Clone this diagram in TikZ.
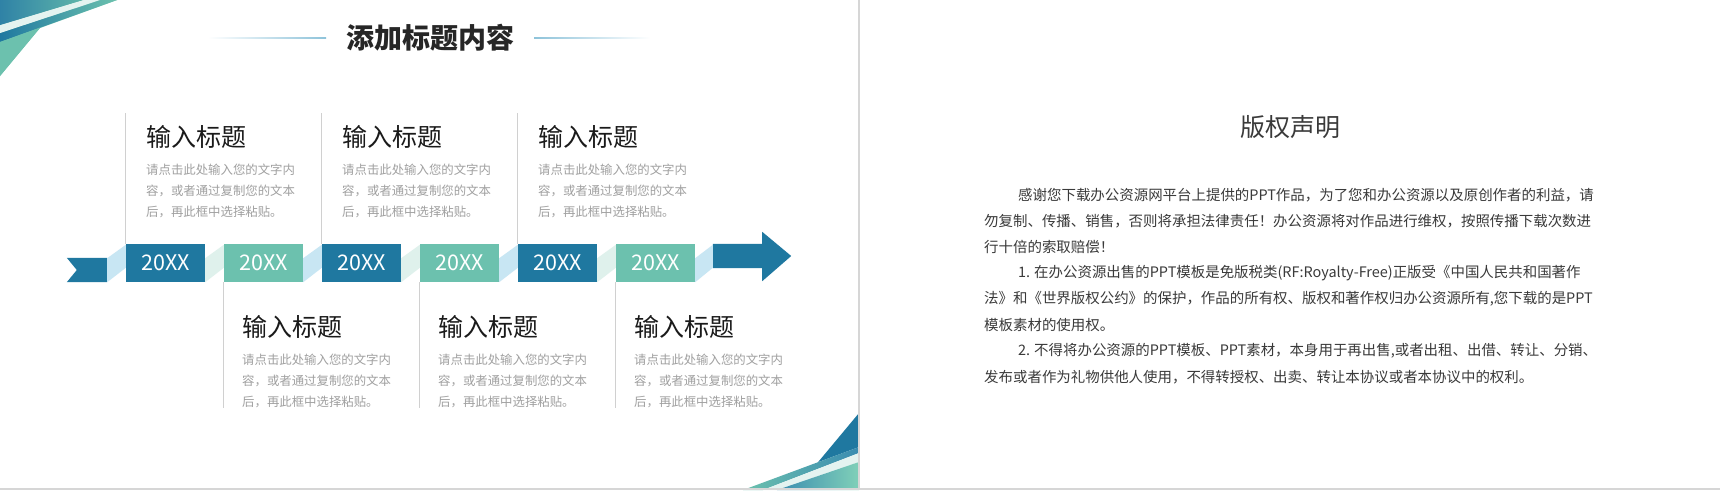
\documentclass[tikz,border=0pt]{standalone}
\usepackage{fontspec}
\setmainfont{Noto Sans CJK SC}
\usetikzlibrary{calc}
\definecolor{dkblue}{HTML}{1F78A0}
\definecolor{tealc}{HTML}{6CC1AE}
\definecolor{ltblue}{HTML}{C8E6F3}
\definecolor{mint}{HTML}{DFF1EC}
\definecolor{vgray}{HTML}{D0D0D0}
\definecolor{divgray}{HTML}{D6D6D6}
\definecolor{descc}{HTML}{A0A0A0}
\definecolor{titlec}{HTML}{1A1A1A}
\definecolor{hdrc}{HTML}{262626}
\definecolor{bodyc}{HTML}{3A3A3A}
\definecolor{hdrline}{HTML}{8EC3DA}
\definecolor{wstrip}{HTML}{E4F3F0}
\definecolor{tlA}{HTML}{2F82A6}
\definecolor{tlB}{HTML}{5FB6AA}
\definecolor{brA}{HTML}{3A8CB0}
\definecolor{brB}{HTML}{80D0B8}
\XeTeXlinebreaklocale "zh"
\XeTeXlinebreakskip=0pt plus 1pt
\newcommand\linkpar[3]{\fill[#3] (#1.south east) -- ([yshift=24pt]#1.south east) -- ([yshift=-1pt]#2.north west) -- ([yshift=-24pt]#2.north west) -- cycle;}
\tikzset{
  yr/.style={inner sep=0, minimum width=79pt, minimum height=38pt, text=white, font=\fontsize{21.5}{21.5}\selectfont},
  ttl/.style={anchor=west, inner sep=0, text=titlec, font=\fontsize{25}{25}\selectfont},
  desc/.style={anchor=west, inner sep=0, text=descc, font=\fontsize{12.4}{12.4}\selectfont},
  bodyl/.style={anchor=west, inner sep=0, text=bodyc, font=\fontsize{14.45}{14.45}\selectfont},
  vl/.style={draw=vgray, line width=1pt},
}
\begin{document}
\begin{tikzpicture}[x=1pt,y=-1pt]
\useasboundingbox (0,0) rectangle (1720,490);
\fill[white] (0,0) rectangle (1720,490);

% top-left decoration
\fill[tealc] (0,0) -- (117,0) -- (40,28) -- (0,76) -- cycle;
\shade[left color=dkblue, right color=tealc] (0,33) -- (100,0) -- (117,0) -- (0,42) -- cycle;
\fill[tealc] (0,42) -- (40,27.6) -- (0,76) -- cycle;
\fill[wstrip] (0,25) -- (83,0) -- (100,0) -- (0,33) -- cycle;
\shade[left color=tlA, right color=tlB] (0,0) -- (83,0) -- (0,25) -- cycle;

% bottom-right decoration of left slide
\fill[dkblue] (818,462.2) -- (859,413) -- (859,447) -- cycle;
\shade[left color=tealc, right color=brA] (743,490) -- (859,447) -- (859,453) -- (763,490) -- cycle;
\fill[wstrip] (763,490) -- (859,453) -- (859,462) -- (777,490) -- cycle;
\shade[left color=brA, right color=brB] (777,490) -- (859,462) -- (859,490) -- cycle;

% dividers
\draw[divgray, line width=2pt] (859,0) -- (859,490);
\draw[divgray, line width=2pt] (0,489) -- (1720,489);

% header
\node[inner sep=0, text=hdrc, font=\fontsize{28}{28}\selectfont\bfseries] (hdr) at (430,38) {添加标题内容};
\shade[left color=white, right color=hdrline] (208,37.3) rectangle (326,38.7);
\shade[left color=hdrline, right color=white] (534,37.3) rectangle (650,38.7);

% timeline
\node[yr, fill=dkblue] (b1) at (165.5,263) {20XX};
\node[yr, fill=tealc]  (b2) at (263.5,263) {20XX};
\node[yr, fill=dkblue] (b3) at (361.5,263) {20XX};
\node[yr, fill=tealc]  (b4) at (459.5,263) {20XX};
\node[yr, fill=dkblue] (b5) at (557.5,263) {20XX};
\node[yr, fill=tealc]  (b6) at (655.5,263) {20XX};
\node[inner sep=0, minimum width=40pt, minimum height=24pt] (flag) at (87,270) {};
\fill[dkblue] (flag.north west) -- (flag.north east) -- (flag.south east) -- (flag.south west) -- ([xshift=10pt]flag.west) -- cycle;
\node[inner sep=0, minimum width=49pt, minimum height=24pt] (arr) at (737.5,256) {};
\fill[dkblue] (arr.north west) -- (arr.north east) -- ([yshift=12pt]arr.north east) -- ([xshift=29pt]arr.east) -- ([yshift=-13pt]arr.south east) -- (arr.south east) -- (arr.south west) -- cycle;
\linkpar{flag}{b1}{ltblue}
\linkpar{b1}{b2}{mint}
\linkpar{b2}{b3}{ltblue}
\linkpar{b3}{b4}{mint}
\linkpar{b4}{b5}{ltblue}
\linkpar{b5}{b6}{mint}
\linkpar{b6}{arr}{ltblue}

% vertical guide lines
\draw[vl] (b1.north west) -- ++(0,-131);
\draw[vl] (b3.north west) -- ++(0,-131);
\draw[vl] (b5.north west) -- ++(0,-131);
\draw[vl] (b2.south west) -- ++(0,126);
\draw[vl] (b4.south west) -- ++(0,126);
\draw[vl] (b6.south west) -- ++(0,126);

% items
\foreach \n/\x/\y in {1/146/137, 3/342/137, 5/538/137, 2/242/327, 4/438/327, 6/634/327}{
  \node[ttl] (t\n) at (\x,\y) {输入标题};
  \node[desc] (da\n) at (\x,\y+33) {请点击此处输入您的文字内};
  \node[desc] (db\n) at (\x,\y+54) {容，或者通过复制您的文本};
  \node[desc] (dc\n) at (\x,\y+75) {后，再此框中选择粘贴。};
}

% right slide
\node[inner sep=0, text=bodyc, font=\fontsize{25}{25}\selectfont] (rt) at (1290,127) {版权声明};
\node[bodyl] (l1) at (1018,195) {\makebox[573pt][s]{感谢您下载办公资源网平台上提供的PPT作品，为了您和办公资源以及原创作者的利益，请}};
\node[bodyl] (l2) at (984,221) {\makebox[607pt][s]{勿复制、传播、销售，否则将承担法律责任！办公资源将对作品进行维权，按照传播下载次数进}};
\node[bodyl] (l3) at (984,247) {行十倍的索取赔偿！};
\node[bodyl] (l4) at (1018,273) {\makebox[573pt][s]{1.\kern4pt 在办公资源出售的PPT模板是免版税类(RF:Royalty-Free)正版受《中国人民共和国著作}};
\node[bodyl] (l5) at (984,299) {\makebox[607pt][s]{法》和《世界版权公约》的保护，作品的所有权、版权和著作权归办公资源所有,您下载的是PPT}};
\node[bodyl] (l6) at (984,325) {模板素材的使用权。};
\node[bodyl] (l7) at (1018,351) {\makebox[573pt][s]{2.\kern4pt 不得将办公资源的PPT模板、PPT素材，本身用于再出售,或者出租、出借、转让、分销、}};
\node[bodyl] (l8) at (984,377) {发布或者作为礼物供他人使用，不得转授权、出卖、转让本协议或者本协议中的权利。};
\end{tikzpicture}
\end{document}
